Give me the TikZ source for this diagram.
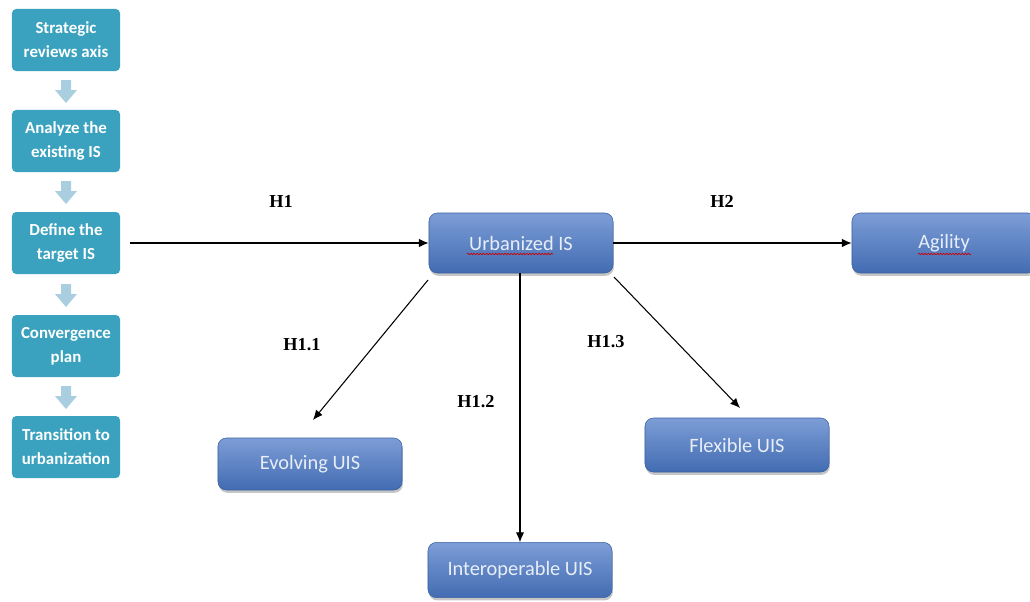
\documentclass[tikz,border=0pt]{standalone}
\usepackage{fontspec}
\setmainfont{Carlito}
\newfontfamily\hfont{Liberation Serif}
\usepackage{tikz}
\usepackage{xcolor}
\tikzset{>=latex}
\usetikzlibrary{arrows.meta,shadows,decorations.pathmorphing}

\definecolor{stepteal}{RGB}{58,162,190}
\definecolor{steparrow}{RGB}{168,206,223}
\definecolor{boxtop}{RGB}{125,157,214}
\definecolor{boxbot}{RGB}{66,108,178}
\definecolor{boxline}{RGB}{58,96,162}
\definecolor{boxtext}{RGB}{232,238,248}

\tikzset{
  stepbox/.style={fill=stepteal, rounded corners=3pt, minimum width=2.7cm, minimum height=1.55cm,
    align=center, text=white, font=\fontsize{12}{17}\selectfont\bfseries},
  uisbox/.style={draw=boxline, top color=boxtop, bottom color=boxbot, rounded corners=6pt,
    minimum width=4.6cm, text=boxtext, font=\fontsize{14.5}{16}\selectfont,
    drop shadow={opacity=0.45, shadow xshift=0.6pt, shadow yshift=-2pt}},
  hyp/.style={font=\hfont\fontsize{13}{15}\selectfont\bfseries},
  link/.style={-{Latex[length=7pt, width=6pt]}, line width=0.75pt},
  squiggle/.style={red!80!black, line width=0.5pt, decorate, decoration={snake, amplitude=0.5pt, segment length=2.2pt}}
}

\begin{document}
\begin{tikzpicture}[x=0.025cm, y=-0.025cm]
    \useasboundingbox (0, 0) rectangle (1030, 601);
    % urbanization steps
    \node[stepbox] (s1) at (66, 40) {Strategic\\reviews axis};
    \node[stepbox] (s2) at (66, 141) {Analyze the\\existing IS};
    \node[stepbox] (s3) at (66, 243) {Define the\\target IS};
    \node[stepbox] (s4) at (66, 346) {Convergence\\plan};
    \node[stepbox] (s5) at (66, 447) {Transition to\\urbanization};
    \foreach \y in {80, 181, 284, 386}
      \fill[steparrow] (61, \y) -- (71, \y) -- (71, \y+10) -- (77, \y+10) -- (66, \y+23) -- (55, \y+10) -- (61, \y+10) -- cycle;
    % model
    \node[uisbox, minimum height=1.5cm] (urb) at (521, 243) {Urbanized IS};
    \node[uisbox, minimum height=1.5cm] (agi) at (944, 243) {Agility};
    \node[uisbox, minimum height=1.3cm] (evo) at (310, 464) {Evolving UIS};
    \node[uisbox, minimum height=1.38cm] (int) at (520, 570) {Interoperable UIS};
    \node[uisbox, minimum height=1.35cm] (fle) at (737, 445) {Flexible UIS};
    \draw[squiggle] (467, 254) -- (553, 254);
    \draw[squiggle] (918, 254) -- (971, 254);
    \coordinate (h1start) at (130, 243);
    \draw[link] (h1start) -- (urb.west);
    \draw[link] (urb.east) -- (agi.west);
    \draw[link] (428, 280) -- (313, 420);
    \draw[link] (urb.south -| int.north) -- (int.north);
    \draw[link] (614, 277) -- (740, 408);
    \node[hyp] (h1) at (281, 201) {H1};
    \node[hyp] (h2) at (722, 201) {H2};
    \node[hyp] (h11) at (302, 345) {H1.1};
    \node[hyp] (h12) at (476, 402) {H1.2};
    \node[hyp] (h13) at (606, 342) {H1.3};
  \end{tikzpicture}
\end{document}
